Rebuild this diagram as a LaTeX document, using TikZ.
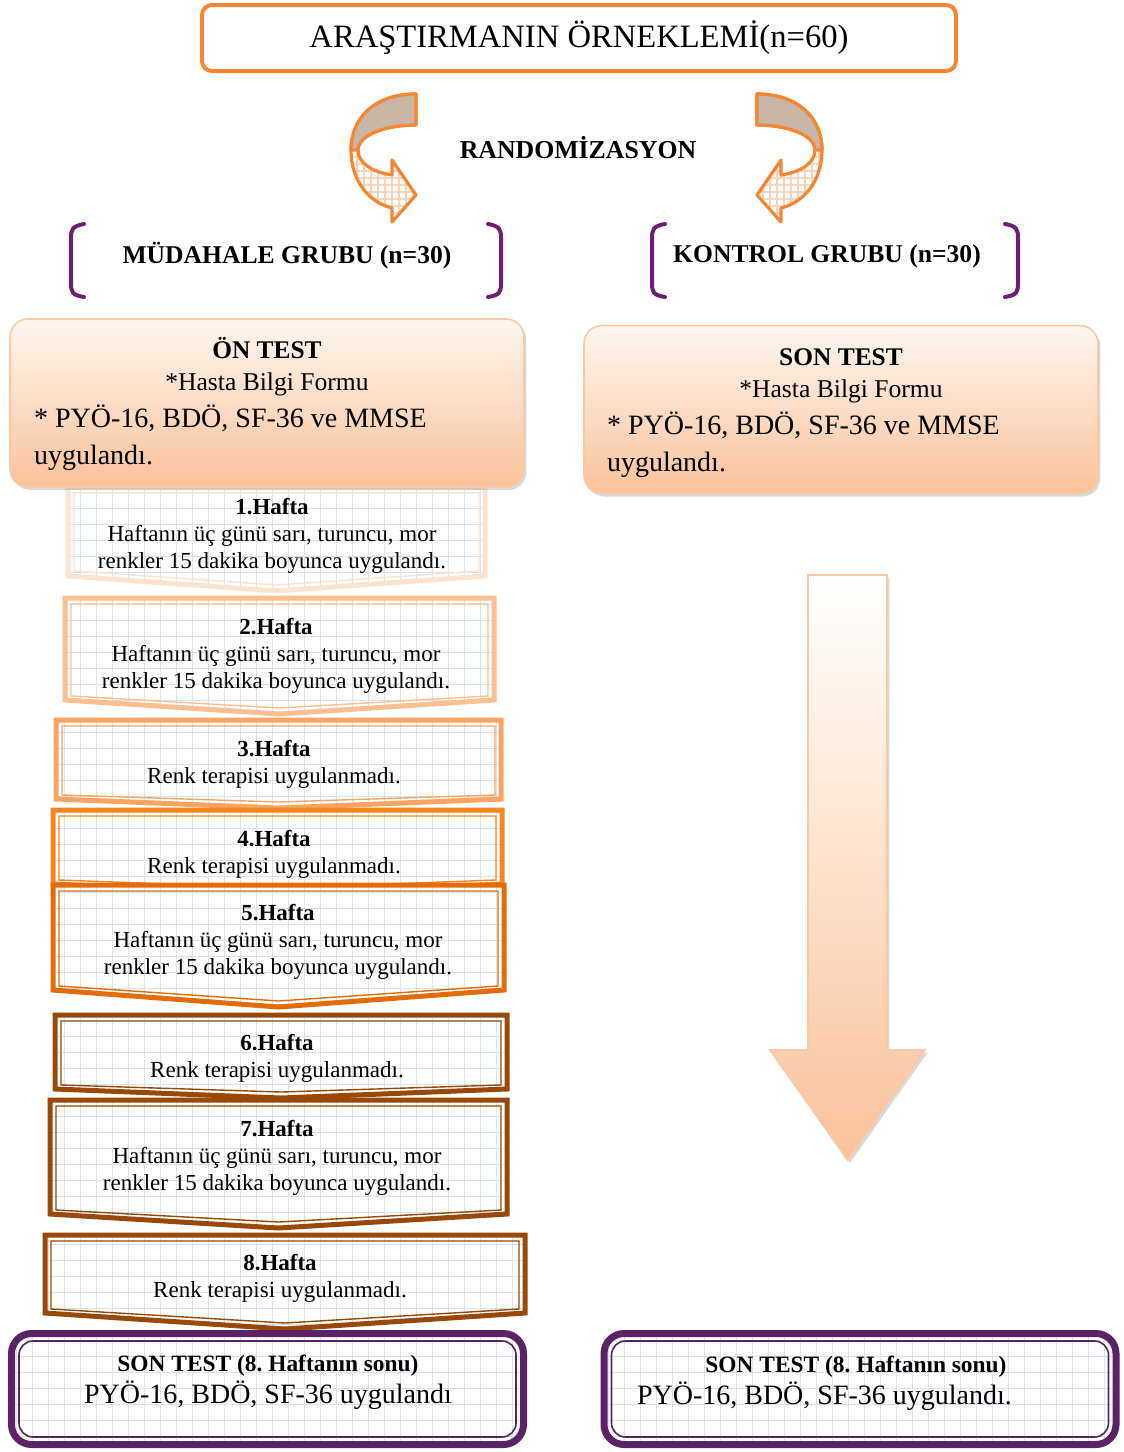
\documentclass[tikz,border=0pt]{standalone}
\usepackage{fontspec}
\setmainfont{Liberation Serif}
\usetikzlibrary{patterns.meta, shadows}
\setlength{\parindent}{0pt}

\definecolor{titleorange}{HTML}{F58634}
\definecolor{twistgrey}{HTML}{C8B7A6}
\definecolor{hatchorange}{HTML}{FAD2B4}
\definecolor{groupviolet}{HTML}{6E1F75}
\definecolor{testtop}{HTML}{FEF6F0}
\definecolor{testbottom}{HTML}{FAC29A}
\definecolor{testedge}{HTML}{F8C9A6}
\definecolor{weekA}{HTML}{FCE3CF}
\definecolor{weekB}{HTML}{FAC08F}
\definecolor{weekC}{HTML}{F9A462}
\definecolor{weekD}{HTML}{F6861F}
\definecolor{weekE}{HTML}{E36C0A}
\definecolor{weekF}{HTML}{984807}
\definecolor{finalviolet}{HTML}{5B2366}
\definecolor{gridblue}{HTML}{D5E3F3}

% a centred line inside a text-width node
\newcommand{\midline}[1]{\makebox[\hsize][c]{\spaceskip=0pt\xspaceskip=0pt #1}}

\begin{document}
\begin{tikzpicture}[x=0.5pt, y=-0.5pt,
  titlebox/.style={draw=titleorange, line width=2pt, rounded corners=5pt, fill=white,
    minimum width=377pt, minimum height=33pt, font=\fontsize{16.3}{19}\selectfont},
  grouplabel/.style={font=\fontsize{12.8}{15}\selectfont\bfseries},
  bracket/.style={draw=groupviolet, line width=2pt, line cap=round},
  twist/.style={draw=titleorange, line width=1.6pt, line join=round},
  testbox/.style={draw=testedge, line width=0.8pt, rounded corners=9pt,
    top color=testtop, bottom color=testbottom,
    drop shadow={opacity=0.3, shadow xshift=1.2pt, shadow yshift=-1.5pt},
    minimum width=257pt, minimum height=84pt},
  testtext/.style={text width=233pt, align=flush left, font=\fontsize{14}{18.5}\selectfont},
  bigarrow/.style={draw=testedge, line width=0.8pt, top color=white, bottom color=testbottom,
    drop shadow={opacity=0.3, shadow xshift=1.2pt, shadow yshift=-1.5pt}},
  weekbox/.style={line width=2.5pt, preaction={fill=white},
    pattern={Hatch[distance=8pt, line width=0.4pt]}, pattern color=gridblue},
  weekline/.style={line width=0.7pt},
  weektext/.style={align=center, font=\fontsize{11.5}{13.5}\selectfont},
  finalbox/.style={draw=finalviolet, line width=3.5pt, rounded corners=10pt,
    preaction={fill=white}, pattern={Hatch[distance=8pt, line width=0.4pt]},
    pattern color=gridblue, minimum width=256pt, minimum height=55.5pt},
  finalline/.style={draw=finalviolet, line width=0.8pt, rounded corners=7pt,
    minimum width=248.5pt, minimum height=48pt},
  finaltext/.style={font=\fontsize{14}{16}\selectfont},
]
  \useasboundingbox (0,0) rectangle (1124,1452);

  % Sample
  \node[titlebox] (sample) at (579,38) {ARAŞTIRMANIN ÖRNEKLEMİ(n=60)};

  % Randomisation arrows (left, then mirrored right)
  \path[twist, preaction={fill=white},
        pattern={Hatch[distance=3.5pt, line width=0.6pt]}, pattern color=hatchorange]
     (416,94) .. controls (375,94) and (351,118) .. (351,150)
     .. controls (351,180) and (368,202) .. (392,208)
     -- (392,222) -- (416,195) -- (392,160) -- (392,175)
     .. controls (372,172) and (358,163) .. (358,150)
     .. controls (358,135) and (385,125) .. (416,125) -- cycle;
  \draw[twist, fill=twistgrey]
     (416,94) .. controls (375,94) and (351,118) .. (351,150)
     -- (358,150) .. controls (358,135) and (385,125) .. (416,125) -- cycle;
  \begin{scope}[xshift=586.5pt, xscale=-1]
    \path[twist, preaction={fill=white},
          pattern={Hatch[distance=3.5pt, line width=0.6pt]}, pattern color=hatchorange]
       (416,94) .. controls (375,94) and (351,118) .. (351,150)
       .. controls (351,180) and (368,202) .. (392,208)
       -- (392,222) -- (416,195) -- (392,160) -- (392,175)
       .. controls (372,172) and (358,163) .. (358,150)
       .. controls (358,135) and (385,125) .. (416,125) -- cycle;
    \draw[twist, fill=twistgrey]
       (416,94) .. controls (375,94) and (351,118) .. (351,150)
       -- (358,150) .. controls (358,135) and (385,125) .. (416,125) -- cycle;
  \end{scope}
  \node[font=\fontsize{12.9}{15}\selectfont\bfseries] (random) at (578,148) {RANDOMİZASYON};

  % Groups
  \node[grouplabel] (mudahale) at (287,256) {MÜDAHALE GRUBU (n=30)};
  \node[grouplabel] (kontrol) at (827,256) {KONTROL GRUBU (n=30)};
  \draw[bracket] (84,224) .. controls (72,226) and (71,230) .. (71,238) -- (71,283)
     .. controls (71,292) and (72,295) .. (84,297);
  \draw[bracket] (488,224) .. controls (500,226) and (501,230) .. (501,238) -- (501,283)
     .. controls (501,292) and (500,295) .. (488,297);
  \draw[bracket] (665,224) .. controls (653,226) and (652,230) .. (652,238) -- (652,283)
     .. controls (652,292) and (653,295) .. (665,297);
  \draw[bracket] (1005,224) .. controls (1017,226) and (1018,230) .. (1018,238) -- (1018,283)
     .. controls (1018,292) and (1017,295) .. (1005,297);

  % Week 1
  \draw[weekbox, draw=weekA] (68,487) -- (485,487) -- (485,576) -- (276.5,591) -- (68,576) -- cycle;
  \draw[weekline, draw=weekA] (74,493) -- (479,493) -- (479,571) -- (276.5,585) -- (74,571) -- cycle;
  \node[weektext] (week1) at (272,536)
    {\textbf{1.Hafta}\\Haftanın üç günü sarı, turuncu, mor\\renkler 15 dakika boyunca uygulandı.};
  % Week 2
  \draw[weekbox, draw=weekB] (65,598) -- (494,598) -- (494,700) -- (279.5,714) -- (65,700) -- cycle;
  \draw[weekline, draw=weekB] (71,604) -- (488,604) -- (488,696) -- (279.5,708) -- (71,696) -- cycle;
  \node[weektext] (week2) at (276,656)
    {\textbf{2.Hafta}\\Haftanın üç günü sarı, turuncu, mor\\renkler 15 dakika boyunca uygulandı.};
  % Week 3
  \draw[weekbox, draw=weekC] (56,720) -- (501,720) -- (501,799) -- (278.5,808) -- (56,799) -- cycle;
  \draw[weekline, draw=weekC] (62,726) -- (495,726) -- (495,795) -- (278.5,802) -- (62,795) -- cycle;
  \node[weektext] (week3) at (274,764.5) {\textbf{3.Hafta}\\Renk terapisi uygulanmadı.};
  % Week 4
  \draw[weekbox, draw=weekD] (53,810) -- (502,810) -- (502,884) -- (277.5,894) -- (53,884) -- cycle;
  \draw[weekline, draw=weekD] (59,816) -- (496,816) -- (496,880) -- (277.5,888) -- (59,880) -- cycle;
  \node[weektext] (week4) at (274,854) {\textbf{4.Hafta}\\Renk terapisi uygulanmadı.};
  % Week 5
  \draw[weekbox, draw=weekE] (53,885) -- (504,885) -- (504,990) -- (278.5,1007) -- (53,990) -- cycle;
  \draw[weekline, draw=weekE] (59,891) -- (498,891) -- (498,986) -- (278.5,1001) -- (59,986) -- cycle;
  \node[weektext] (week5) at (278,941.5)
    {\textbf{5.Hafta}\\Haftanın üç günü sarı, turuncu, mor\\renkler 15 dakika boyunca uygulandı.};
  % Week 6
  \draw[weekbox, draw=weekF] (55,1015) -- (507,1015) -- (507,1089) -- (281,1098) -- (55,1089) -- cycle;
  \draw[weekline, draw=weekF] (61,1021) -- (501,1021) -- (501,1085) -- (281,1092) -- (61,1085) -- cycle;
  \node[weektext] (week6) at (277,1058) {\textbf{6.Hafta}\\Renk terapisi uygulanmadı.};
  % Week 7
  \draw[weekbox, draw=weekF] (50,1100) -- (507,1100) -- (507,1214) -- (278.5,1228) -- (50,1214) -- cycle;
  \draw[weekline, draw=weekF] (56,1106) -- (501,1106) -- (501,1210) -- (278.5,1222) -- (56,1210) -- cycle;
  \node[weektext] (week7) at (277,1157.5)
    {\textbf{7.Hafta}\\Haftanın üç günü sarı, turuncu, mor\\renkler 15 dakika boyunca uygulandı.};
  % Week 8
  \draw[weekbox, draw=weekF] (45,1235) -- (525,1235) -- (525,1313) -- (285,1329) -- (45,1313) -- cycle;
  \draw[weekline, draw=weekF] (51,1241) -- (519,1241) -- (519,1309) -- (285,1323) -- (51,1309) -- cycle;
  \node[weektext] (week8) at (280,1278.5) {\textbf{8.Hafta}\\Renk terapisi uygulanmadı.};

  % Pre-test and control test
  \node[testbox] (ontest) at (267,403) {};
  \node[testtext] (ontesttext) at (267,404)
    {\midline{\fontsize{12.7}{16}\selectfont\bfseries ÖN TEST}\\[-2.5pt]
     \midline{\fontsize{12.8}{16}\selectfont *Hasta Bilgi Formu}\\{}* PYÖ-16, BDÖ, SF-36 ve MMSE\\uygulandı.};
  \node[testbox] (sontest) at (841,409.5) {};
  \node[testtext, text width=234pt] (sontesttext) at (841,413)
    {\midline{\fontsize{12.7}{16}\selectfont\bfseries SON TEST}\\[-2.5pt]
     \midline{\fontsize{12.8}{16}\selectfont *Hasta Bilgi Formu}\\{}* PYÖ-16, BDÖ, SF-36 ve MMSE\\uygulandı.};

  % Control arrow
  \path[bigarrow] (808,575) -- (887,575) -- (887,1050) -- (925,1050) -- (847.5,1160)
     -- (770,1050) -- (808,1050) -- cycle;

  % Final tests
  \node[finalbox] (finalleft) at (267.5,1389) {};
  \node[finalline] (finalleftin) at (finalleft.center) {};
  \node[finaltext, align=center] (finallefttext) at (268,1382)
    {{\fontsize{11.7}{16}\selectfont\bfseries SON TEST (8.\ Haftanın sonu)}\\PYÖ-16, BDÖ, SF-36 uygulandı};
  \node[finalbox] (finalright) at (860,1389) {};
  \node[finalline] (finalrightin) at (finalright.center) {};
  \node[finaltext, text width=219pt, align=flush left] (finalrighttext) at (856,1383)
    {\midline{\fontsize{11.7}{16}\selectfont\bfseries SON TEST (8.\ Haftanın sonu)}\\PYÖ-16, BDÖ, SF-36 uygulandı.};
\end{tikzpicture}
\end{document}
